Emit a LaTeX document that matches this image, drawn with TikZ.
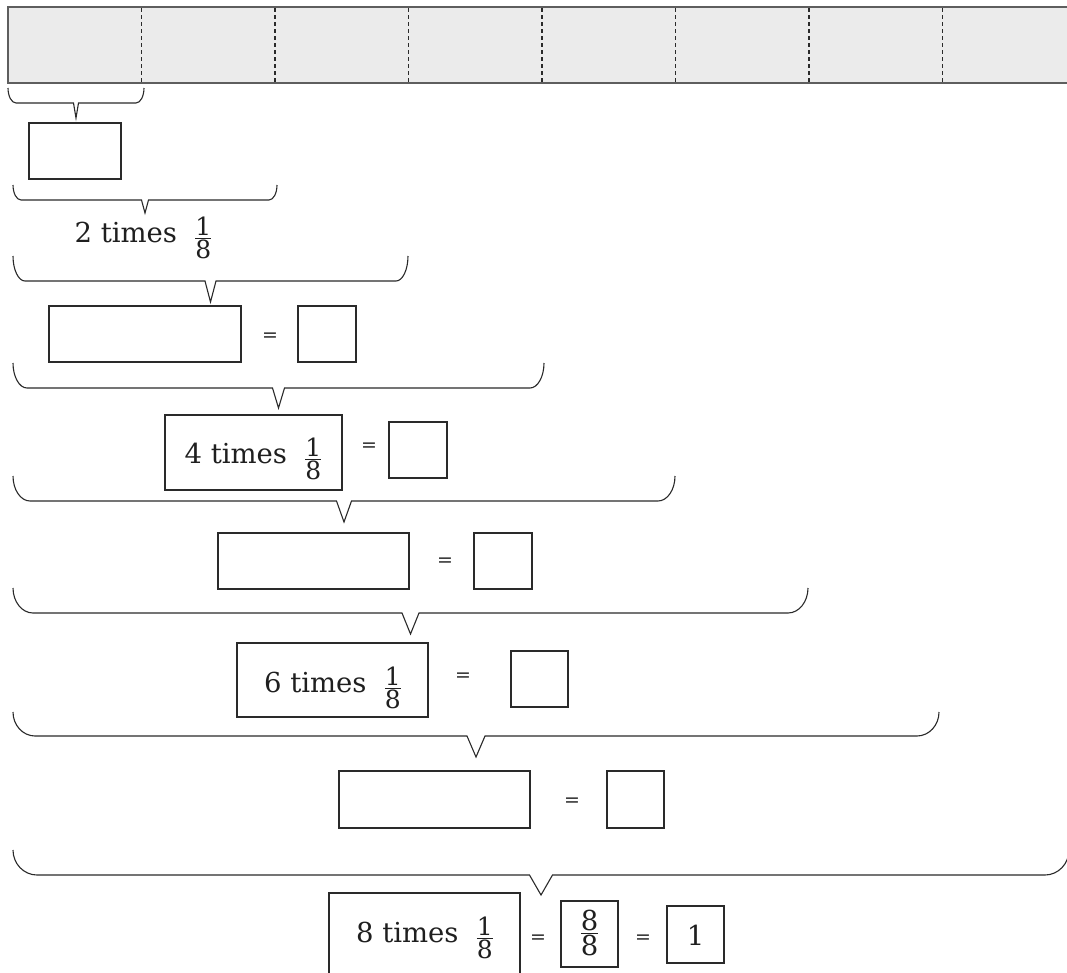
\documentclass[tikz,border=0pt]{standalone}
\usepackage{fontspec}
\usepackage{amsmath}
\setmainfont{DejaVu Serif}
\definecolor{ln}{HTML}{2A2A2A}
\definecolor{barfill}{HTML}{EBEBEB}
\definecolor{baredge}{HTML}{5E5E5E}
\newcommand{\oneeighth}{\raisebox{-3pt}{\fontsize{25}{30}\selectfont$\frac{\mbox{1}}{\mbox{8}}$}}
\newcommand{\ntimes}[1]{#1 times\hspace{17pt}\oneeighth}
% xL xR ytop yflat ytip r w
\newcommand{\brc}[7]{%
  \draw[bracestyle] (#1,#3) .. controls (#1,{#3+0.55*(#4-#3)}) and ({#1+0.45*#6},#4) .. ({#1+#6},#4)
    -- ({(#1+#2)/2-#7},#4) -- ({(#1+#2)/2},#5) -- ({(#1+#2)/2+#7},#4) -- ({#2-#6},#4)
    .. controls ({#2-0.45*#6},#4) and (#2,{#3+0.55*(#4-#3)}) .. (#2,#3);}
\tikzset{
  bracestyle/.style={draw=ln, line width=1.1pt, line join=miter},
  boxstyle/.style={draw=ln, line width=1.4pt, inner sep=0pt, outer sep=0pt},
  txt/.style={inner sep=0pt, font=\fontsize{27.5}{32}\selectfont, text=black!88},
  eqst/.style={inner sep=0pt, font=\fontsize{19}{22}\selectfont, text=black!85},
}
\begin{document}
\begin{tikzpicture}[x=1pt, y=-1pt]
\useasboundingbox (0,0) rectangle (1067,972);
\clip (0,0) rectangle (1067,972);
% strip
\fill[barfill] (8,7) rectangle (1090,83);
\draw[baredge, line width=1.8pt] (1090,7) -- (8,7) -- (8,83) -- (1090,83);
\foreach \k in {1,...,7}
  \draw[ln, line width=1.2pt, dash pattern=on 4pt off 3pt] ({8+133.5*\k},8) -- ({8+133.5*\k},82);
% braces
\brc{8}{144}{88}{103}{118}{8}{2.5}
\brc{13}{277}{185}{200}{213}{8}{3.5}
\brc{13}{408}{256}{281}{302}{12}{5.5}
\brc{13}{544}{363}{388}{408}{14}{6}
\brc{13}{675}{476}{501}{522}{17}{7.5}
\brc{13}{808}{588}{613}{634}{20}{8.5}
\brc{13}{939}{712}{736}{757}{22}{9}
\brc{13}{1069}{850}{875}{895}{24}{11.5}
% row 1
\node[boxstyle, minimum width=92pt, minimum height=56pt] (b1) at (75,151) {};
% row 2
\node[txt, anchor=base] (t2) at (143.5,242) {\ntimes{2}};
% row 3
\node[boxstyle, minimum width=192pt, minimum height=56pt] (r3a) at (145,334) {};
\node[eqst] (e3) at (270,337) {=};
\node[boxstyle, minimum width=58pt, minimum height=56pt] (r3b) at (327,334) {};
% row 4
\node[boxstyle, minimum width=177pt, minimum height=75pt] (r4a) at (253.5,452.5) {};
\node[txt, anchor=base] (t4) at (253.5,463) {\ntimes{4}};
\node[eqst] (e4) at (369,447) {=};
\node[boxstyle, minimum width=58pt, minimum height=56pt] (r4b) at (418,450) {};
% row 5
\node[boxstyle, minimum width=191pt, minimum height=56pt] (r5a) at (313.5,561) {};
\node[eqst] (e5) at (445,562) {=};
\node[boxstyle, minimum width=58pt, minimum height=56pt] (r5b) at (503,561) {};
% row 6
\node[boxstyle, minimum width=191pt, minimum height=74pt] (r6a) at (332.5,680) {};
\node[txt, anchor=base] (t6) at (333,692) {\ntimes{6}};
\node[eqst] (e6) at (463,677) {=};
\node[boxstyle, minimum width=57pt, minimum height=56pt] (r6b) at (539.5,679) {};
% row 7
\node[boxstyle, minimum width=191pt, minimum height=57pt] (r7a) at (434.5,799.5) {};
\node[eqst] (e7) at (572,802) {=};
\node[boxstyle, minimum width=57pt, minimum height=57pt] (r7b) at (635.5,799.5) {};
% row 8
\node[boxstyle, minimum width=191pt, minimum height=100pt] (r8a) at (424.5,943) {};
\node[txt, anchor=base] (t8) at (425,942) {\ntimes{8}};
\node[eqst] (e8a) at (538,939) {=};
\node[boxstyle, minimum width=57pt, minimum height=66pt] (r8b) at (589.5,934) {};
\node[txt] (f8) at (589.5,933) {$\frac{\mbox{8}}{\mbox{8}}$};
\node[eqst] (e8b) at (643,939) {=};
\node[boxstyle, minimum width=57pt, minimum height=57pt] (r8c) at (695.5,934.5) {};
\node[txt] (one) at (695.5,935) {1};
\end{tikzpicture}
\end{document}
